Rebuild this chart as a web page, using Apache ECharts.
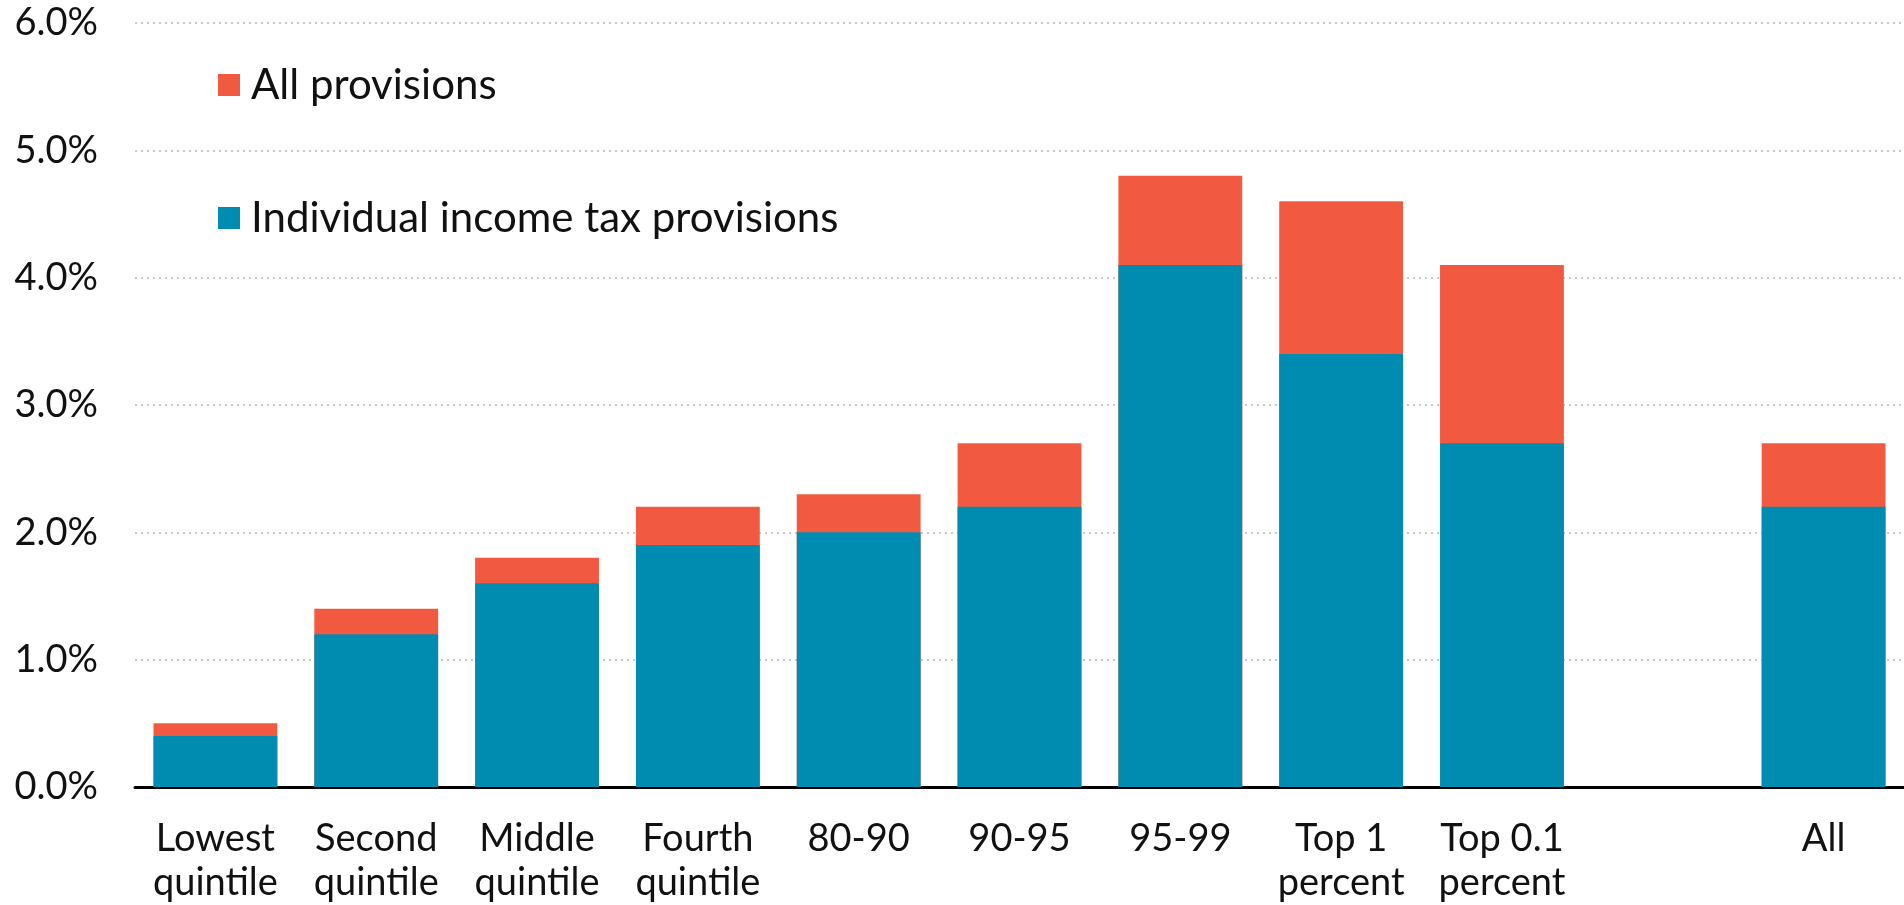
<!DOCTYPE html>
<html>
<head>
<meta charset="utf-8">
<script src="https://cdn.jsdelivr.net/npm/echarts@6/dist/echarts.min.js"></script>
<style>
  html, body { margin: 0; padding: 0; background: #fff; }
  #chart { width: 1904px; height: 905px; }
</style>
</head>
<body>
<div id="chart"></div>
<script>
// Income groups; the blank slot separates the overall "All" bar from the rest
const categories = [
  'Lowest\nquintile', 'Second\nquintile', 'Middle\nquintile', 'Fourth\nquintile',
  '80-90', '90-95', '95-99', 'Top 1\npercent', 'Top 0.1\npercent', '', 'All'
];
// Percent change, all provisions combined
const allProvisions = [0.5, 1.4, 1.8, 2.2, 2.3, 2.7, 4.8, 4.6, 4.1, null, 2.7];
// Percent change, individual income tax provisions only
const individualProvisions = [0.4, 1.2, 1.6, 1.9, 2.0, 2.2, 4.1, 3.4, 2.7, null, 2.2];
// Value-axis ticks
const yTicks = { min: 0, max: 6, interval: 1 };

const FONT = 'Lato, "Open Sans", sans-serif';
const chart = echarts.init(document.getElementById('chart'));

chart.setOption({
  animation: false,
  backgroundColor: '#ffffff',
  grid: { left: 135, top: 23, width: 1780, height: 767.5 },
  legend: {
    orient: 'vertical',
    left: 213,
    top: 59,
    itemWidth: 22,
    itemHeight: 22,
    itemGap: 91,
    icon: 'rect',
    textStyle: {
      fontFamily: FONT, fontSize: 42, lineHeight: 42, color: '#111',
      padding: [0, 0, 0, 6]
    },
    data: ['All provisions', 'Individual income tax provisions']
  },
  xAxis: {
    type: 'category',
    data: categories,
    axisLine: { lineStyle: { color: '#000', width: 3 } },
    axisTick: { show: false },
    axisLabel: {
      fontFamily: FONT, fontSize: 38, color: '#111',
      margin: 30, lineHeight: 44, interval: 0
    }
  },
  yAxis: {
    type: 'value',
    min: yTicks.min, max: yTicks.max, interval: yTicks.interval,
    axisLine: { show: false },
    axisTick: { show: false },
    axisLabel: {
      fontFamily: FONT, fontSize: 38, color: '#111', margin: 37,
      formatter: v => v.toFixed(1) + '%'
    },
    splitLine: { lineStyle: { color: '#c8c8c8', width: 2, type: [2, 4] } }
  },
  series: [
    {
      name: 'All provisions',
      type: 'bar',
      data: allProvisions,
      barCategoryGap: '23%',
      itemStyle: { color: '#F15A40' },
      z: 2
    },
    {
      name: 'Individual income tax provisions',
      type: 'bar',
      data: individualProvisions,
      barGap: '-100%',
      barCategoryGap: '23%',
      itemStyle: { color: '#008CB1' },
      z: 3
    }
  ]
});
</script>
</body>
</html>
